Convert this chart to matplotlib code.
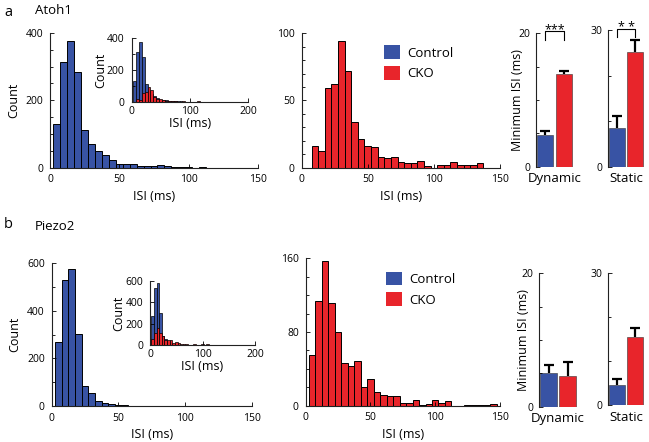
import numpy as np
import matplotlib
matplotlib.use('Agg')
import matplotlib.pyplot as plt
from matplotlib.patches import Patch
from matplotlib.ticker import MultipleLocator

plt.rcParams['font.family'] = ['Open Sans', 'DejaVu Sans']

W, H = 649, 442          # tamaño en pixeles
blue = '#3853a4'
red = '#e8252b'

# ------------------------------
# Datos
# ------------------------------
bin_centers = np.arange(5, 150, 5)   # ISI (ms), bins de 5 ms

atoh1_ctrl = [130, 315, 375, 283, 111, 70, 48, 38, 23, 11, 11, 11, 5, 5, 5,
              7, 5, 2, 1, 1, 0, 2, 0, 0, 0, 0, 0, 0, 0]
atoh1_cko = [0, 16, 12, 59, 62, 94, 72, 34, 21, 16, 15, 8, 7, 8, 4,
             3, 3, 5, 1, 0, 2, 2, 4, 2, 2, 2, 3, 0, 0]
piezo2_ctrl = [270, 530, 577, 303, 86, 56, 21, 14, 8, 4, 4, 1, 1, 1, 1,
               1, 1, 0, 1, 1, 1, 0, 1, 1, 1, 0, 1, 1, 1]
piezo2_cko = [55, 114, 157, 111, 80, 46, 43, 48, 20, 29, 15, 11, 10, 10, 3,
              3, 6, 1, 2, 6, 3, 5, 0, 0, 1, 1, 1, 1, 2]

groups = ['Control', 'CKO']
atoh1_dyn_mean = [4.7, 13.9]
atoh1_dyn_err = [0.6, 0.5]
atoh1_sta_mean = [8.6, 25.2]
atoh1_sta_err = [2.6, 2.5]
piezo2_dyn_mean = [5.0, 4.6]
piezo2_dyn_err = [1.25, 2.05]
piezo2_sta_mean = [4.6, 15.4]
piezo2_sta_err = [1.35, 2.2]


def px_axes(fig, left, top, right, bottom):
    return fig.add_axes([left / W, 1 - bottom / H, (right - left) / W, (bottom - top) / H])


def style(ax):
    ax.spines['top'].set_visible(False)
    ax.spines['right'].set_visible(False)
    for s in ['left', 'bottom']:
        ax.spines[s].set_linewidth(0.8)
        ax.spines[s].set_color('#222222')
    ax.tick_params(which='major', direction='in', labelsize=7.5, length=3, width=0.6, pad=5)
    ax.tick_params(which='minor', direction='in', length=2, width=0.6)


def hist(ax, counts, color, lw=0.7):
    ax.bar(bin_centers, counts, width=5, color=color, edgecolor='black', linewidth=lw)


def main_hist(ax, counts, color, yticks, minor, ylabel=True):
    hist(ax, counts, color)
    style(ax)
    ax.set_xlim(0, 150)
    ax.set_ylim(0, yticks[-1])
    ax.set_xticks([0, 50, 100, 150])
    ax.set_yticks(yticks)
    ax.yaxis.set_minor_locator(MultipleLocator(minor))
    ax.set_xlabel('ISI (ms)', fontsize=9, labelpad=3)
    if ylabel:
        ax.set_ylabel('Count', fontsize=9, labelpad=4)


def inset_hist(ax, ctrl, cko, ymax, step):
    hist(ax, ctrl, blue, lw=0.5)
    hist(ax, cko, red, lw=0.5)
    style(ax)
    ax.patch.set_alpha(0)
    ax.set_xlim(0, 200)
    ax.set_ylim(0, ymax)
    ax.set_xticks([0, 100, 200])
    ax.set_yticks(np.arange(0, ymax + 1, step))
    ax.tick_params(axis='x', pad=3)
    ax.set_xlabel('ISI (ms)', fontsize=9, labelpad=0)
    ax.set_ylabel('Count', fontsize=9, labelpad=0)


def min_isi(ax, means, errs, ymax, minor, label, ylabel=False, lx=-0.3):
    x = np.arange(len(groups))
    means = np.array(means)
    tops = means + np.array(errs)
    ax.bar(x, means, width=0.85, color=[blue, red], edgecolor='#333333', linewidth=0.4)
    ax.vlines(x, means, tops, color='black', lw=1.6)
    ax.plot(x, tops, ls='none', marker='_', ms=7, mew=1.6, color='black')
    style(ax)
    ax.spines['bottom'].set_visible(False)
    ax.set_xlim(-0.5, 1.5)
    ax.set_ylim(0, ymax)
    ax.set_xticks([])
    ax.set_yticks([0, ymax])
    ax.yaxis.set_minor_locator(MultipleLocator(minor))
    ax.tick_params(axis='y', pad=4)
    ax.set_xlabel(label, fontsize=9.5, labelpad=4)
    if ylabel:
        ax.set_ylabel('Minimum ISI (ms)', fontsize=9)
        ax.yaxis.set_label_coords(lx, 0.5)


def bracket(ax, y_leg, y_top, text, ty):
    ax.plot([0, 0, 1, 1], [y_leg, y_top, y_top, y_leg], color='black', lw=0.8, clip_on=False)
    ax.text(0.5, ty, text, ha='center', va='center', fontsize=9, clip_on=False)


def legend(ax, anchor):
    handles = [Patch(facecolor=blue, edgecolor='none', label='Control'),
               Patch(facecolor=red, edgecolor='none', label='CKO')]
    ax.legend(handles=handles, loc='upper left', bbox_to_anchor=anchor, frameon=False,
              fontsize=9.5, handlelength=1.2, handleheight=1.2, handletextpad=0.6,
              labelspacing=0.5, borderaxespad=0, borderpad=0)


fig = plt.figure(figsize=(W / 100, H / 100), dpi=100)

# ------------------------------
# a  Atoh1
# ------------------------------
ax = px_axes(fig, 50, 33, 258, 167.5)
main_hist(ax, atoh1_ctrl, blue, [0, 200, 400], 50)

ax = px_axes(fig, 131.5, 38, 248, 102)
inset_hist(ax, atoh1_ctrl, atoh1_cko, 400, 200)
ax.yaxis.set_minor_locator(MultipleLocator(100))

ax = px_axes(fig, 301.7, 33.3, 500, 167.5)
main_hist(ax, atoh1_cko, red, [0, 50, 100], 10, ylabel=False)
legend(ax, (0.415, 0.91))

ax = px_axes(fig, 536, 33.3, 573, 166.7)
min_isi(ax, atoh1_dyn_mean, atoh1_dyn_err, 20, 5, 'Dynamic', ylabel=True, lx=-0.32)
bracket(ax, 19.0, 20.3, '***', 20.55)

ax = px_axes(fig, 607.5, 30, 644.5, 166.7)
min_isi(ax, atoh1_sta_mean, atoh1_sta_err, 30, 10, 'Static')
bracket(ax, 28.5, 30.15, '* *', 30.5)

fig.text(4 / W, 1 - 12 / H, 'a', fontsize=10.5, va='center')
fig.text(35 / W, 1 - 11 / H, 'Atoh1', fontsize=9.5, va='center')

# ------------------------------
# b  Piezo2
# ------------------------------
ax = px_axes(fig, 51.7, 263.3, 251.7, 406)
main_hist(ax, piezo2_ctrl, blue, [0, 200, 400, 600], 100)

ax = px_axes(fig, 150, 281, 255, 345)
inset_hist(ax, piezo2_ctrl, piezo2_cko, 600, 200)

ax = px_axes(fig, 305.7, 258.3, 500, 405.5)
main_hist(ax, piezo2_cko, red, [0, 80, 160], 20, ylabel=False)
legend(ax, (0.413, 0.91))

ax = px_axes(fig, 539, 273.3, 577, 406.7)
min_isi(ax, piezo2_dyn_mean, piezo2_dyn_err, 20, 5, 'Dynamic', ylabel=True, lx=-0.24)

ax = px_axes(fig, 607.5, 273.3, 644.5, 405)
min_isi(ax, piezo2_sta_mean, piezo2_sta_err, 30, 10, 'Static')

fig.text(4 / W, 1 - 225 / H, 'b', fontsize=10.5, va='center')
fig.text(35 / W, 1 - 227 / H, 'Piezo2', fontsize=9.5, va='center')

fig.savefig('out.png', dpi=100)
